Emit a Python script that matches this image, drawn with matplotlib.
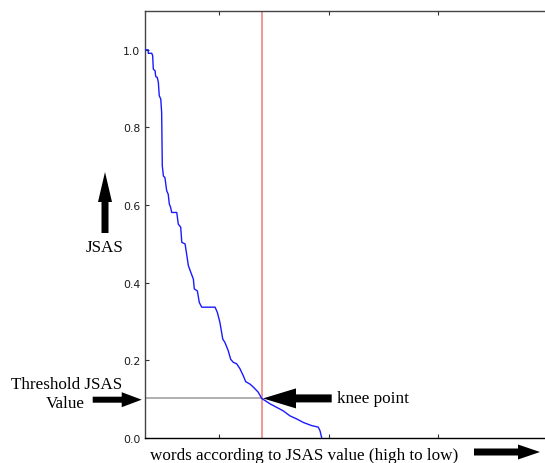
import matplotlib
matplotlib.use("Agg")
import matplotlib.pyplot as plt
from matplotlib.patches import FancyArrow

# ---- data ----
word_rank = [0, 15, 15, 31, 35, 38, 46, 49, 56, 61, 65, 72, 76, 79, 84, 91, 99, 106,
             111, 117, 122, 145, 152, 163, 168, 183, 190, 198, 209, 221, 225, 239,
             248, 259, 320, 330, 342, 355, 365, 380, 391, 403, 419, 434, 449, 460,
             479, 495, 517, 533, 571, 601, 631, 662, 693, 723, 761, 791, 799, 807]
jsas = [1.0, 1.0, 0.991, 0.991, 0.985, 0.950, 0.946, 0.931, 0.929, 0.916, 0.882,
        0.873, 0.839, 0.701, 0.675, 0.671, 0.637, 0.628, 0.603, 0.594, 0.581, 0.581,
        0.551, 0.543, 0.504, 0.500, 0.474, 0.444, 0.427, 0.409, 0.384, 0.379, 0.349,
        0.337, 0.337, 0.324, 0.298, 0.255, 0.246, 0.225, 0.203, 0.195, 0.191, 0.178,
        0.160, 0.145, 0.139, 0.131, 0.118, 0.102, 0.088, 0.079, 0.070, 0.057, 0.049,
        0.040, 0.032, 0.028, 0.019, 0.0]
knee_rank = 532
threshold = 0.102
y_ticks = [0.0, 0.2, 0.4, 0.6, 0.8, 1.0]
y_tick_labels = ["0.0", "0.2", "0.4", "0.6", "0.8", "1.0"]
x_ticks = [340, 840, 1340, 1840]

W, H = 545, 464
fig = plt.figure(figsize=(W / 100, H / 100), dpi=100)

# main axes (extends past the right edge of the figure, as in the reference)
ax = fig.add_axes([145 / W, (H - 439) / H, 438 / W, (439 - 12) / H])
ax.plot(word_rank, jsas, color="#1a1aff", lw=1.0, zorder=3)
ax.axvline(knee_rank, color="#f07878", lw=1.1, zorder=2)
ax.hlines(threshold, 0, knee_rank, color="#aaaaaa", lw=1.3, zorder=2)
ax.set_xlim(0, 2000)
ax.set_ylim(0, 1.1)
ax.set_yticks(y_ticks)
ax.set_yticklabels(y_tick_labels)
ax.set_xticks(x_ticks)
ax.set_xticklabels([])
ax.tick_params(direction="in", length=3, width=0.8, colors="#333333",
               labelsize=7.8, pad=3.5, top=True, right=True)
ax.tick_params(axis="y", labelcolor="#1a1a1a")
for s in ax.spines.values():
    s.set_color("#444444")
    s.set_linewidth(1.0)
ax.spines["bottom"].set_color("black")

# overlay in pixel coordinates (y up) for annotations
ov = fig.add_axes([0, 0, 1, 1], zorder=5)
ov.set_xlim(0, W)
ov.set_ylim(0, H)
ov.axis("off")
ov.patch.set_alpha(0)

serif = ["Liberation Serif", "DejaVu Serif"]
fs = 12.3

def arrow(x0, y0, x1, y1, shaft, head, hl):
    ov.add_patch(FancyArrow(x0, H - y0, x1 - x0, -(y1 - y0), width=shaft,
                            head_width=head, head_length=hl,
                            length_includes_head=True, color="black", lw=0))

# up arrow (JSAS)
arrow(105, 234, 105, 173, 7, 14, 30)
ov.text(105, H - 251.7, "JSAS", family=serif, fontsize=fs, ha="center", va="baseline")

# threshold arrow
arrow(92.7, 400.7, 141.7, 400.7, 6, 15, 20)
ov.text(66.5, H - 389.3, "Threshold JSAS", family=serif, fontsize=fs, ha="center", va="baseline")
ov.text(65, H - 407.7, "Value", family=serif, fontsize=fs, ha="center", va="baseline")

# knee arrow: tip at the knee point
kx, ky = ax.transData.transform((knee_rank, threshold))
arrow(331.7, H - ky, kx + 1.5, H - ky, 8, 20, 33)
ov.text(337, H - 403.3, "knee point", family=serif, fontsize=fs, ha="left", va="baseline")

# x-axis label and arrow
ov.text(149.5, H - 460, "words according to JSAS value (high to low)", family=serif,
        fontsize=fs, ha="left", va="baseline")
arrow(474, 453, 540, 453, 7, 15, 22)

fig.savefig("out.png", dpi=100)
